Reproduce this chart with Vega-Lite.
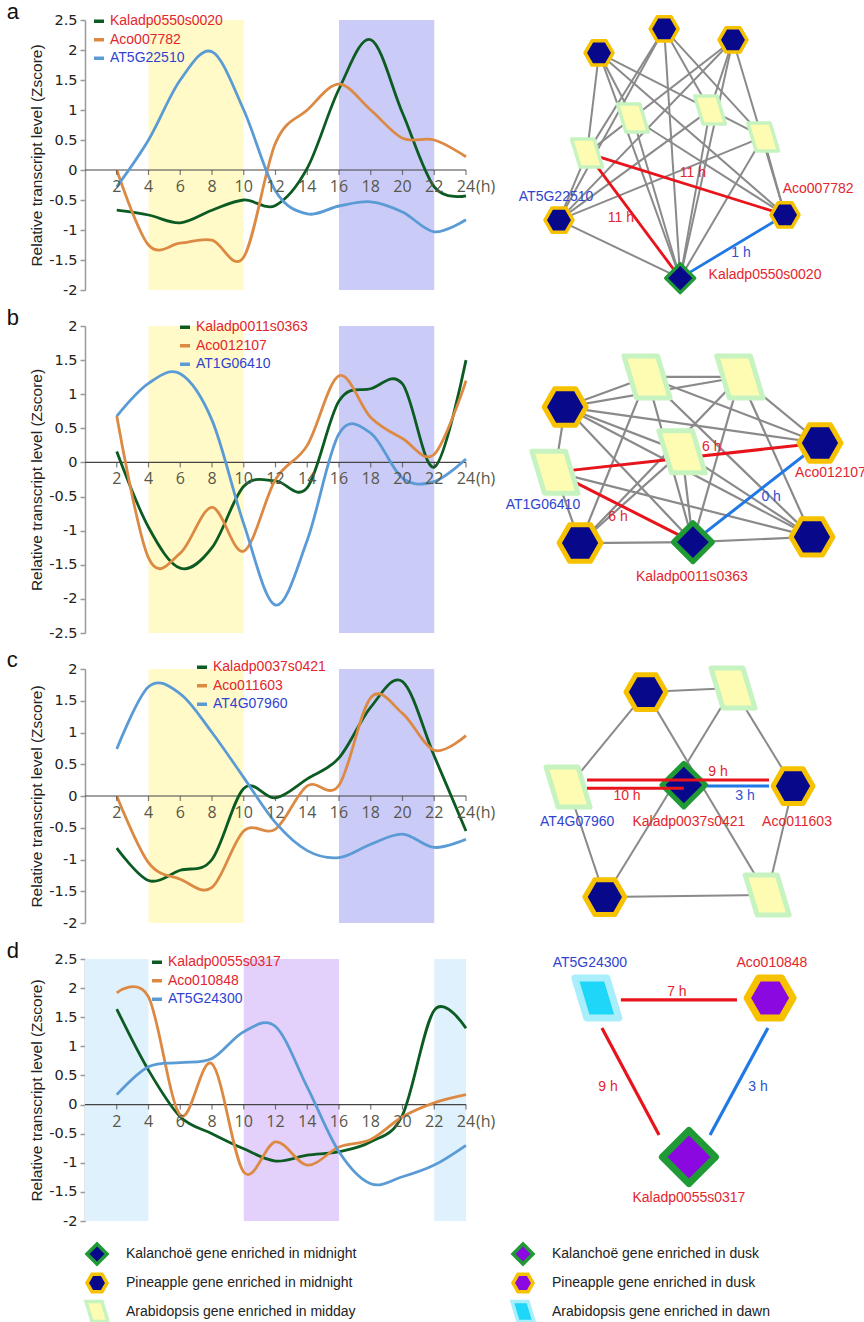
{
"$schema":"https://vega.github.io/schema/vega-lite/v6.json",
"background":"white",
"padding":{"left":6,"top":1,"right":0,"bottom":0},
"columns":2,
"bounds":"flush",
"align":"each",
"spacing":{"row":36,"column":34},
"config":{"view":{"stroke":null},"font":"Liberation Sans","axis":{"labelOverlap":false,"labelSeparation":0},
 "axisY":{"grid":false,"domainColor":"#9a9a9a","domainWidth":1.5,"tickColor":"#9a9a9a","tickWidth":1.5,"tickSize":5,"labelFont":"DejaVu Sans","labelFontSize":14.5,"labelColor":"#222","labelPadding":3,"titleFont":"Liberation Sans","titleFontSize":15.5,"titleFontWeight":"normal","titleColor":"#222","titlePadding":4,"labelOverlap":false}},
"resolve":{"scale":{"color":"independent","fill":"independent","stroke":"independent","shape":"independent","size":"independent","strokeWidth":"independent"}},
"datasets":{
"hours":[{"t":2},{"t":4},{"t":6},{"t":8},{"t":10},{"t":12},{"t":14},{"t":16},{"t":18},{"t":20},{"t":22},{"t":24}],
"sa":[
{"gene":"Kaladp0550s0020","t":2,"z":-0.67},{"gene":"Kaladp0550s0020","t":4,"z":-0.75},{"gene":"Kaladp0550s0020","t":6,"z":-0.88},{"gene":"Kaladp0550s0020","t":8,"z":-0.67},{"gene":"Kaladp0550s0020","t":10,"z":-0.5},{"gene":"Kaladp0550s0020","t":12,"z":-0.59},{"gene":"Kaladp0550s0020","t":14,"z":0.03},{"gene":"Kaladp0550s0020","t":16,"z":1.35},{"gene":"Kaladp0550s0020","t":18,"z":2.17},{"gene":"Kaladp0550s0020","t":20,"z":0.95},{"gene":"Kaladp0550s0020","t":22,"z":-0.28},{"gene":"Kaladp0550s0020","t":24,"z":-0.43},
{"gene":"Aco007782","t":2,"z":0.0},{"gene":"Aco007782","t":4,"z":-1.25},{"gene":"Aco007782","t":6,"z":-1.22},{"gene":"Aco007782","t":8,"z":-1.17},{"gene":"Aco007782","t":10,"z":-1.45},{"gene":"Aco007782","t":12,"z":0.45},{"gene":"Aco007782","t":14,"z":1.0},{"gene":"Aco007782","t":16,"z":1.43},{"gene":"Aco007782","t":18,"z":1.0},{"gene":"Aco007782","t":20,"z":0.53},{"gene":"Aco007782","t":22,"z":0.5},{"gene":"Aco007782","t":24,"z":0.22},
{"gene":"AT5G22510","t":2,"z":-0.28},{"gene":"AT5G22510","t":4,"z":0.5},{"gene":"AT5G22510","t":6,"z":1.5},{"gene":"AT5G22510","t":8,"z":1.97},{"gene":"AT5G22510","t":10,"z":1.0},{"gene":"AT5G22510","t":12,"z":-0.35},{"gene":"AT5G22510","t":14,"z":-0.73},{"gene":"AT5G22510","t":16,"z":-0.6},{"gene":"AT5G22510","t":18,"z":-0.53},{"gene":"AT5G22510","t":20,"z":-0.7},{"gene":"AT5G22510","t":22,"z":-1.03},{"gene":"AT5G22510","t":24,"z":-0.83}],
"sb":[
{"gene":"Kaladp0011s0363","t":2,"z":0.16},{"gene":"Kaladp0011s0363","t":4,"z":-0.95},{"gene":"Kaladp0011s0363","t":6,"z":-1.55},{"gene":"Kaladp0011s0363","t":8,"z":-1.25},{"gene":"Kaladp0011s0363","t":10,"z":-0.35},{"gene":"Kaladp0011s0363","t":12,"z":-0.27},{"gene":"Kaladp0011s0363","t":14,"z":-0.37},{"gene":"Kaladp0011s0363","t":16,"z":0.9},{"gene":"Kaladp0011s0363","t":18,"z":1.08},{"gene":"Kaladp0011s0363","t":20,"z":1.15},{"gene":"Kaladp0011s0363","t":22,"z":-0.07},{"gene":"Kaladp0011s0363","t":24,"z":1.5},
{"gene":"Aco012107","t":2,"z":0.68},{"gene":"Aco012107","t":4,"z":-1.4},{"gene":"Aco012107","t":6,"z":-1.33},{"gene":"Aco012107","t":8,"z":-0.66},{"gene":"Aco012107","t":10,"z":-1.3},{"gene":"Aco012107","t":12,"z":-0.25},{"gene":"Aco012107","t":14,"z":0.25},{"gene":"Aco012107","t":16,"z":1.27},{"gene":"Aco012107","t":18,"z":0.66},{"gene":"Aco012107","t":20,"z":0.35},{"gene":"Aco012107","t":22,"z":0.12},{"gene":"Aco012107","t":24,"z":1.2},
{"gene":"AT1G06410","t":2,"z":0.68},{"gene":"AT1G06410","t":4,"z":1.16},{"gene":"AT1G06410","t":6,"z":1.3},{"gene":"AT1G06410","t":8,"z":0.62},{"gene":"AT1G06410","t":10,"z":-0.9},{"gene":"AT1G06410","t":12,"z":-2.09},{"gene":"AT1G06410","t":14,"z":-1.14},{"gene":"AT1G06410","t":16,"z":0.42},{"gene":"AT1G06410","t":18,"z":0.43},{"gene":"AT1G06410","t":20,"z":-0.23},{"gene":"AT1G06410","t":22,"z":-0.28},{"gene":"AT1G06410","t":24,"z":0.05}],
"sc":[
{"gene":"Kaladp0037s0421","t":2,"z":-0.82},{"gene":"Kaladp0037s0421","t":4,"z":-1.33},{"gene":"Kaladp0037s0421","t":6,"z":-1.17},{"gene":"Kaladp0037s0421","t":8,"z":-1.0},{"gene":"Kaladp0037s0421","t":10,"z":0.12},{"gene":"Kaladp0037s0421","t":12,"z":-0.03},{"gene":"Kaladp0037s0421","t":14,"z":0.27},{"gene":"Kaladp0037s0421","t":16,"z":0.6},{"gene":"Kaladp0037s0421","t":18,"z":1.4},{"gene":"Kaladp0037s0421","t":20,"z":1.8},{"gene":"Kaladp0037s0421","t":22,"z":0.63},{"gene":"Kaladp0037s0421","t":24,"z":-0.55},
{"gene":"Aco011603","t":2,"z":0.0},{"gene":"Aco011603","t":4,"z":-1.05},{"gene":"Aco011603","t":6,"z":-1.31},{"gene":"Aco011603","t":8,"z":-1.44},{"gene":"Aco011603","t":10,"z":-0.55},{"gene":"Aco011603","t":12,"z":-0.52},{"gene":"Aco011603","t":14,"z":0.16},{"gene":"Aco011603","t":16,"z":0.17},{"gene":"Aco011603","t":18,"z":1.55},{"gene":"Aco011603","t":20,"z":1.3},{"gene":"Aco011603","t":22,"z":0.72},{"gene":"Aco011603","t":24,"z":0.95},
{"gene":"AT4G07960","t":2,"z":0.74},{"gene":"AT4G07960","t":4,"z":1.72},{"gene":"AT4G07960","t":6,"z":1.61},{"gene":"AT4G07960","t":8,"z":1.0},{"gene":"AT4G07960","t":10,"z":0.29},{"gene":"AT4G07960","t":12,"z":-0.42},{"gene":"AT4G07960","t":14,"z":-0.86},{"gene":"AT4G07960","t":16,"z":-0.97},{"gene":"AT4G07960","t":18,"z":-0.76},{"gene":"AT4G07960","t":20,"z":-0.6},{"gene":"AT4G07960","t":22,"z":-0.81},{"gene":"AT4G07960","t":24,"z":-0.68}],
"sd":[
{"gene":"Kaladp0055s0317","t":2,"z":1.64},{"gene":"Kaladp0055s0317","t":4,"z":0.59},{"gene":"Kaladp0055s0317","t":6,"z":-0.21},{"gene":"Kaladp0055s0317","t":8,"z":-0.5},{"gene":"Kaladp0055s0317","t":10,"z":-0.76},{"gene":"Kaladp0055s0317","t":12,"z":-0.97},{"gene":"Kaladp0055s0317","t":14,"z":-0.87},{"gene":"Kaladp0055s0317","t":16,"z":-0.81},{"gene":"Kaladp0055s0317","t":18,"z":-0.64},{"gene":"Kaladp0055s0317","t":20,"z":-0.18},{"gene":"Kaladp0055s0317","t":22,"z":1.62},{"gene":"Kaladp0055s0317","t":24,"z":1.31},
{"gene":"Aco010848","t":2,"z":1.92},{"gene":"Aco010848","t":4,"z":1.85},{"gene":"Aco010848","t":6,"z":-0.18},{"gene":"Aco010848","t":8,"z":0.7},{"gene":"Aco010848","t":10,"z":-1.16},{"gene":"Aco010848","t":12,"z":-0.64},{"gene":"Aco010848","t":14,"z":-1.04},{"gene":"Aco010848","t":16,"z":-0.73},{"gene":"Aco010848","t":18,"z":-0.6},{"gene":"Aco010848","t":20,"z":-0.21},{"gene":"Aco010848","t":22,"z":0.03},{"gene":"Aco010848","t":24,"z":0.17},
{"gene":"AT5G24300","t":2,"z":0.17},{"gene":"AT5G24300","t":4,"z":0.65},{"gene":"AT5G24300","t":6,"z":0.72},{"gene":"AT5G24300","t":8,"z":0.79},{"gene":"AT5G24300","t":10,"z":1.25},{"gene":"AT5G24300","t":12,"z":1.34},{"gene":"AT5G24300","t":14,"z":0.3},{"gene":"AT5G24300","t":16,"z":-0.81},{"gene":"AT5G24300","t":18,"z":-1.36},{"gene":"AT5G24300","t":20,"z":-1.24},{"gene":"AT5G24300","t":22,"z":-1.04},{"gene":"AT5G24300","t":24,"z":-0.7}],
"nodesA":[
{"id":"H1","type":"Pineapple gene enriched in midnight","u":27.2,"v":87.8},
{"id":"H2","type":"Pineapple gene enriched in midnight","u":45.1,"v":96.7},
{"id":"H3","type":"Pineapple gene enriched in midnight","u":64.0,"v":92.6},
{"id":"H4","type":"Pineapple gene enriched in midnight","u":16.2,"v":25.9},
{"id":"Aco007782","type":"Pineapple gene enriched in midnight","u":78.3,"v":27.8},
{"id":"Kaladp0550s0020","type":"Kalanchoë gene enriched in midnight","u":49.5,"v":4.4},
{"id":"AT5G22510","type":"Arabidopsis gene enriched in midday","u":23.9,"v":50.7},
{"id":"P2","type":"Arabidopsis gene enriched in midday","u":36.5,"v":63.7},
{"id":"P3","type":"Arabidopsis gene enriched in midday","u":57.7,"v":66.7},
{"id":"P4","type":"Arabidopsis gene enriched in midday","u":72.3,"v":56.7}],
"edgesA":[
{"src":"H1","dst":"AT5G22510","kind":"net"},{"src":"H1","dst":"P2","kind":"net"},{"src":"H1","dst":"P4","kind":"net"},{"src":"H1","dst":"Kaladp0550s0020","kind":"net"},{"src":"H1","dst":"Aco007782","kind":"net"},
{"src":"H2","dst":"AT5G22510","kind":"net"},{"src":"H2","dst":"P3","kind":"net"},{"src":"H2","dst":"H4","kind":"net"},{"src":"H2","dst":"Kaladp0550s0020","kind":"net"},{"src":"H2","dst":"P4","kind":"net"},
{"src":"H3","dst":"AT5G22510","kind":"net"},{"src":"H3","dst":"P3","kind":"net"},{"src":"H3","dst":"Kaladp0550s0020","kind":"net"},{"src":"H3","dst":"Aco007782","kind":"net"},{"src":"H3","dst":"H4","kind":"net"},
{"src":"H4","dst":"AT5G22510","kind":"net"},{"src":"H4","dst":"P3","kind":"net"},{"src":"H4","dst":"P4","kind":"net"},{"src":"H4","dst":"Kaladp0550s0020","kind":"net"},
{"src":"P2","dst":"Kaladp0550s0020","kind":"net"},{"src":"P2","dst":"Aco007782","kind":"net"},{"src":"P3","dst":"Kaladp0550s0020","kind":"net"},{"src":"P4","dst":"Kaladp0550s0020","kind":"net"},{"src":"P4","dst":"Aco007782","kind":"net"},
{"src":"AT5G22510","dst":"Aco007782","kind":"long"},{"src":"AT5G22510","dst":"Kaladp0550s0020","kind":"long"},{"src":"Aco007782","dst":"Kaladp0550s0020","kind":"short"}],
"hlabA":[{"u":53.0,"v":43.3,"text":"11 h","kind":"long"},{"u":33.2,"v":26.7,"text":"11 h","kind":"long"},{"u":66.2,"v":13.7,"text":"1 h","kind":"short"}],
"labA":[{"u":15.4,"v":34.4,"name":"AT5G22510","species":"Arabidopsis"},{"u":87.4,"v":37.4,"name":"Aco007782","species":"pineapple"},{"u":72.8,"v":5.6,"name":"Kaladp0550s0020","species":"Kalanchoë"}],
"nodesB":[
{"id":"HL","type":"Pineapple gene enriched in midnight","u":17.9,"v":73.6},
{"id":"PT1","type":"Arabidopsis gene enriched in midday","u":40.4,"v":83.4},
{"id":"PT2","type":"Arabidopsis gene enriched in midday","u":65.9,"v":83.4},
{"id":"Aco012107","type":"Pineapple gene enriched in midnight","u":87.9,"v":61.9},
{"id":"PM","type":"Arabidopsis gene enriched in midday","u":50.0,"v":59.0},
{"id":"AT1G06410","type":"Arabidopsis gene enriched in midday","u":15.1,"v":52.4},
{"id":"BL","type":"Pineapple gene enriched in midnight","u":22.0,"v":29.3},
{"id":"Kaladp0011s0363","type":"Kalanchoë gene enriched in midnight","u":53.0,"v":29.6},
{"id":"BR","type":"Pineapple gene enriched in midnight","u":85.7,"v":31.3}],
"edgesB":[
{"src":"HL","dst":"PT1","kind":"net"},{"src":"HL","dst":"PT2","kind":"net"},{"src":"HL","dst":"PM","kind":"net"},{"src":"HL","dst":"Aco012107","kind":"net"},{"src":"HL","dst":"Kaladp0011s0363","kind":"net"},{"src":"HL","dst":"BR","kind":"net"},{"src":"HL","dst":"AT1G06410","kind":"net"},
{"src":"PT1","dst":"PT2","kind":"net"},{"src":"PT1","dst":"BL","kind":"net"},{"src":"PT1","dst":"Kaladp0011s0363","kind":"net"},{"src":"PT1","dst":"BR","kind":"net"},{"src":"PT1","dst":"Aco012107","kind":"net"},
{"src":"PT2","dst":"BL","kind":"net"},{"src":"PT2","dst":"Kaladp0011s0363","kind":"net"},{"src":"PT2","dst":"BR","kind":"net"},{"src":"PT2","dst":"Aco012107","kind":"net"},
{"src":"PM","dst":"BL","kind":"net"},{"src":"PM","dst":"Kaladp0011s0363","kind":"net"},{"src":"PM","dst":"BR","kind":"net"},
{"src":"AT1G06410","dst":"BL","kind":"net"},{"src":"AT1G06410","dst":"BR","kind":"net"},{"src":"BL","dst":"Kaladp0011s0363","kind":"net"},{"src":"Kaladp0011s0363","dst":"BR","kind":"net"},
{"src":"AT1G06410","dst":"Aco012107","kind":"long"},{"src":"AT1G06410","dst":"Kaladp0011s0363","kind":"long"},{"src":"Aco012107","dst":"Kaladp0011s0363","kind":"short"}],
"hlabB":[{"u":58.2,"v":60.6,"text":"6 h","kind":"long"},{"u":32.4,"v":37.8,"text":"6 h","kind":"long"},{"u":74.5,"v":44.3,"text":"0 h","kind":"short"}],
"labB":[{"u":11.8,"v":41.7,"name":"AT1G06410","species":"Arabidopsis"},{"u":90.8,"v":52.1,"name":"Aco012107","species":"pineapple"},{"u":52.7,"v":18.2,"name":"Kaladp0011s0363","species":"Kalanchoë"}],
"nodesC":[
{"id":"T","type":"Pineapple gene enriched in midnight","u":40.1,"v":90.9},
{"id":"PTR","type":"Arabidopsis gene enriched in midday","u":64.0,"v":92.5},
{"id":"AT4G07960","type":"Arabidopsis gene enriched in midday","u":18.7,"v":53.5},
{"id":"Kaladp0037s0421","type":"Kalanchoë gene enriched in midnight","u":50.5,"v":54.3},
{"id":"Aco011603","type":"Pineapple gene enriched in midnight","u":80.5,"v":53.9},
{"id":"B","type":"Pineapple gene enriched in midnight","u":28.8,"v":10.2},
{"id":"PBR","type":"Arabidopsis gene enriched in midday","u":73.4,"v":11.0}],
"edgesC":[
{"src":"T","dst":"PTR","kind":"net"},{"src":"T","dst":"AT4G07960","kind":"net"},{"src":"T","dst":"PBR","kind":"net"},{"src":"PTR","dst":"B","kind":"net"},{"src":"PTR","dst":"Aco011603","kind":"net"},{"src":"AT4G07960","dst":"B","kind":"net"},{"src":"B","dst":"PBR","kind":"net"},{"src":"Aco011603","dst":"PBR","kind":"net"}],
"linksC":[{"u1":23.9,"v1":56.3,"u2":73.9,"v2":56.3,"kind":"long"},{"u1":23.9,"v1":53.1,"u2":50.5,"v2":53.1,"kind":"long"},{"u1":56.9,"v1":53.9,"u2":73.9,"v2":53.9,"kind":"short"}],
"hlabC":[{"u":59.9,"v":59.4,"text":"9 h","kind":"long"},{"u":34.9,"v":50.0,"text":"10 h","kind":"long"},{"u":67.3,"v":50.0,"text":"3 h","kind":"short"}],
"labC":[{"u":21.2,"v":39.8,"name":"AT4G07960","species":"Arabidopsis"},{"u":51.9,"v":39.8,"name":"Kaladp0037s0421","species":"Kalanchoë"},{"u":81.6,"v":39.8,"name":"Aco011603","species":"pineapple"}],
"nodesD":[
{"id":"AT5G24300","type":"Arabidopsis gene enriched in dawn","u":26.6,"v":85.1},
{"id":"Aco010848","type":"Pineapple gene enriched in dusk","u":74.2,"v":85.1},
{"id":"Kaladp0055s0317","type":"Kalanchoë gene enriched in dusk","u":51.9,"v":24.4}],
"linksD":[{"u1":33.2,"v1":84.4,"u2":65.1,"v2":84.4,"kind":"long"},{"u1":28.0,"v1":73.7,"u2":43.7,"v2":32.8,"kind":"long"},{"u1":73.6,"v1":73.7,"u2":57.7,"v2":32.8,"kind":"short"}],
"hlabD":[{"u":48.6,"v":87.4,"text":"7 h","kind":"long"},{"u":29.7,"v":51.1,"text":"9 h","kind":"long"},{"u":70.9,"v":51.1,"text":"3 h","kind":"short"}],
"labD":[{"u":24.7,"v":98.5,"name":"AT5G24300","species":"Arabidopsis"},{"u":74.7,"v":98.5,"name":"Aco010848","species":"pineapple"},{"u":51.9,"v":8.8,"name":"Kaladp0055s0317","species":"Kalanchoë"}]
},
"concat":[
{"width":381,"height":270,
 "title":{"text":"a","anchor":"start","frame":"bounds","font":"Liberation Sans","fontSize":22,"fontWeight":"normal","color":"#111","dx":-23,"offset":-29,"baseline":"alphabetic"},
 "layer":[
  {"data":{"values":[{"start":4,"end":10,"phase":"midday"},{"start":16,"end":22,"phase":"midnight"}]},"mark":{"type":"rect"},
   "encoding":{"x":{"field":"start","type":"quantitative","scale":{"domain":[0,24],"nice":false,"zero":false},"axis":null},"x2":{"field":"end"},
   "fill":{"field":"phase","type":"nominal","scale":{"domain":["midday","midnight","dawn","dusk"],"range":["#fffac8","#cbcbf8","#dff1fc","#e3d1fb"]},"legend":null}}},
  {"data":{"values":[{"level":0}]},"mark":{"type":"rule","color":"#444","strokeWidth":1.2},"encoding":{"y":{"datum":0,"axis":{"values":[-2,-1.5,-1,-0.5,0,0.5,1,1.5,2,2.5],"labelExpr":"'' + datum.value","title":"Relative transcript level (Zscore)","labelOverlap":false}}}},
  {"data":{"name":"sa"},"mark":{"type":"line","interpolate":"cardinal","strokeWidth":2.8},
   "encoding":{"x":{"field":"t","type":"quantitative","axis":null},
   "y":{"field":"z","type":"quantitative","scale":{"domain":[-2,2.5],"nice":false,"zero":false},"axis":{"values":[-2,-1.5,-1,-0.5,0,0.5,1,1.5,2,2.5],"labelExpr":"'' + datum.value","title":"Relative transcript level (Zscore)","labelOverlap":false}},
   "color":{"field":"gene","type":"nominal","scale":{"domain":["Kaladp0550s0020","Aco007782","AT5G22510"],"range":["#0c5b22","#dc8a43","#5b9bd5"]},"legend":{"orient":"none","legendX":7,"legendY":-5.75,"title":null,"symbolType":"stroke","symbolStrokeWidth":3.5,"symbolSize":100,"labelFont":"Liberation Sans","labelFontSize":14,"labelOffset":4,"rowPadding":4.5,"padding":0,"encode":{"labels":{"update":{"fill":{"signal":"indexof(datum.label, 'AT') == 0 ? '#3043cf' : '#e3262e'"}}}}}}}},
  {"data":{"name":"hours"},"mark":{"type":"tick","orient":"vertical","size":5,"thickness":1.2,"color":"#444","yOffset":2.5},"encoding":{"x":{"field":"t","type":"quantitative","axis":null},"y":{"datum":0,"axis":{"values":[-2,-1.5,-1,-0.5,0,0.5,1,1.5,2,2.5],"labelExpr":"'' + datum.value","title":"Relative transcript level (Zscore)","labelOverlap":false}}}},
  {"data":{"name":"hours"},"mark":{"type":"text","dy":17,"font":"Open Sans","fontSize":16,"color":"#57574a"},"encoding":{"x":{"field":"t","type":"quantitative","axis":null},"y":{"datum":0,"axis":{"values":[-2,-1.5,-1,-0.5,0,0.5,1,1.5,2,2.5],"labelExpr":"'' + datum.value","title":"Relative transcript level (Zscore)","labelOverlap":false}},"text":{"field":"t","type":"quantitative"}}},
  {"data":{"values":[{"t":24,"unit":"(h)"}]},"mark":{"type":"text","dy":17,"dx":10,"align":"left","font":"Open Sans","fontSize":16,"color":"#57574a"},"encoding":{"x":{"field":"t","type":"quantitative","axis":null},"y":{"datum":0,"axis":{"values":[-2,-1.5,-1,-0.5,0,0.5,1,1.5,2,2.5],"labelExpr":"'' + datum.value","title":"Relative transcript level (Zscore)","labelOverlap":false}},"text":{"field":"unit"}}}
 ]},
{"width":364,"height":270,
 "layer":[
  {"data":{"name":"edgesA"},"transform":[{"lookup":"src","from":{"data":{"name":"nodesA"},"key":"id","fields":["u","v"]},"as":["u1","v1"]},{"lookup":"dst","from":{"data":{"name":"nodesA"},"key":"id","fields":["u","v"]},"as":["u2","v2"]}],
   "mark":{"type":"rule"},
   "encoding":{"x":{"field":"u1","type":"quantitative","scale":{"domain":[0,100],"nice":false,"zero":false},"axis":null},"y":{"field":"v1","type":"quantitative","scale":{"domain":[0,100],"nice":false,"zero":false},"axis":null},"x2":{"field":"u2"},"y2":{"field":"v2"},
   "color":{"field":"kind","type":"nominal","scale":{"domain":["net","long","short"],"range":["#8a8a8a","#e8141c","#1f78e4"]},"legend":null},
   "strokeWidth":{"field":"kind","type":"nominal","scale":{"type":"ordinal","domain":["net","long","short"],"range":[2,2.8,2.8]},"legend":null}}},
  {"data":{"name":"nodesA"},"mark":{"type":"point","filled":true,"opacity":1,"strokeWidth":3.5,"strokeJoin":"round"},
   "encoding":{"x":{"field":"u","type":"quantitative","axis":null},"y":{"field":"v","type":"quantitative","axis":null},
   "shape":{"field":"type","type":"nominal","scale":{"domain":["Kalanchoë gene enriched in midnight","Kalanchoë gene enriched in dusk","Pineapple gene enriched in midnight","Pineapple gene enriched in dusk","Arabidopsis gene enriched in midday","Arabidopsis gene enriched in dawn"],"range":["diamond","diamond","M-1,0L-0.5,-0.866L0.5,-0.866L1,0L0.5,0.866L-0.5,0.866Z","M-1,0L-0.5,-0.866L0.5,-0.866L1,0L0.5,0.866L-0.5,0.866Z","M-1.1,-1L0.5,-1L1.1,1L-0.5,1Z","M-1.1,-1L0.5,-1L1.1,1L-0.5,1Z"]},"legend":null},
   "fill":{"field":"type","type":"nominal","scale":{"domain":["Kalanchoë gene enriched in midnight","Kalanchoë gene enriched in dusk","Pineapple gene enriched in midnight","Pineapple gene enriched in dusk","Arabidopsis gene enriched in midday","Arabidopsis gene enriched in dawn"],"range":["#08088a","#8c08e0","#08088a","#8c08e0","#fdfcb2","#1ed6f7"]},"legend":null},
   "stroke":{"field":"type","type":"nominal","scale":{"domain":["Kalanchoë gene enriched in midnight","Kalanchoë gene enriched in dusk","Pineapple gene enriched in midnight","Pineapple gene enriched in dusk","Arabidopsis gene enriched in midday","Arabidopsis gene enriched in dawn"],"range":["#1f9a35","#1f9a35","#f6c200","#f6c200","#c6f3bf","#a9eefb"]},"legend":null},
   "size":{"field":"type","type":"nominal","scale":{"type":"ordinal","domain":["Kalanchoë gene enriched in midnight","Kalanchoë gene enriched in dusk","Pineapple gene enriched in midnight","Pineapple gene enriched in dusk","Arabidopsis gene enriched in midday","Arabidopsis gene enriched in dawn"],"range":[841,841,784,784,784,784]},"legend":null}}},
  {"data":{"name":"hlabA"},"mark":{"type":"text","font":"Liberation Sans","fontSize":14},
   "encoding":{"x":{"field":"u","type":"quantitative","axis":null},"y":{"field":"v","type":"quantitative","axis":null},"text":{"field":"text"},"color":{"field":"kind","type":"nominal","scale":{"domain":["long","short"],"range":["#e3262e","#2f50d0"]},"legend":null}}},
  {"data":{"name":"labA"},"mark":{"type":"text","font":"Liberation Sans","fontSize":14},
   "encoding":{"x":{"field":"u","type":"quantitative","axis":null},"y":{"field":"v","type":"quantitative","axis":null},"text":{"field":"name"},"color":{"field":"species","type":"nominal","scale":{"domain":["Kalanchoë","pineapple","Arabidopsis"],"range":["#e3262e","#e3262e","#3043cf"]},"legend":null}}}
 ],
 "resolve":{"scale":{"color":"independent"}}},
{"width":381,"height":307,
 "title":{"text":"b","anchor":"start","frame":"bounds","font":"Liberation Sans","fontSize":22,"fontWeight":"normal","color":"#111","dx":-23,"offset":-29,"baseline":"alphabetic"},
 "layer":[
  {"data":{"values":[{"start":4,"end":10,"phase":"midday"},{"start":16,"end":22,"phase":"midnight"}]},"mark":{"type":"rect"},
   "encoding":{"x":{"field":"start","type":"quantitative","scale":{"domain":[0,24],"nice":false,"zero":false},"axis":null},"x2":{"field":"end"},
   "fill":{"field":"phase","type":"nominal","scale":{"domain":["midday","midnight","dawn","dusk"],"range":["#fffac8","#cbcbf8","#dff1fc","#e3d1fb"]},"legend":null}}},
  {"data":{"values":[{"level":0}]},"mark":{"type":"rule","color":"#444","strokeWidth":1.2},"encoding":{"y":{"datum":0,"axis":{"values":[-2.5,-2,-1.5,-1,-0.5,0,0.5,1,1.5,2],"labelExpr":"'' + datum.value","title":"Relative transcript level (Zscore)","labelOverlap":false}}}},
  {"data":{"name":"sb"},"mark":{"type":"line","interpolate":"cardinal","strokeWidth":2.8},
   "encoding":{"x":{"field":"t","type":"quantitative","axis":null},
   "y":{"field":"z","type":"quantitative","scale":{"domain":[-2.5,2],"nice":false,"zero":false},"axis":{"values":[-2.5,-2,-1.5,-1,-0.5,0,0.5,1,1.5,2],"labelExpr":"'' + datum.value","title":"Relative transcript level (Zscore)","labelOverlap":false}},
   "color":{"field":"gene","type":"nominal","scale":{"domain":["Kaladp0011s0363","Aco012107","AT1G06410"],"range":["#0c5b22","#dc8a43","#5b9bd5"]},"legend":{"orient":"none","legendX":93,"legendY":-5.75,"title":null,"symbolType":"stroke","symbolStrokeWidth":3.5,"symbolSize":100,"labelFont":"Liberation Sans","labelFontSize":14,"labelOffset":4,"rowPadding":4.5,"padding":0,"encode":{"labels":{"update":{"fill":{"signal":"indexof(datum.label, 'AT') == 0 ? '#3043cf' : '#e3262e'"}}}}}}}},
  {"data":{"name":"hours"},"mark":{"type":"tick","orient":"vertical","size":5,"thickness":1.2,"color":"#444","yOffset":2.5},"encoding":{"x":{"field":"t","type":"quantitative","axis":null},"y":{"datum":0,"axis":{"values":[-2.5,-2,-1.5,-1,-0.5,0,0.5,1,1.5,2],"labelExpr":"'' + datum.value","title":"Relative transcript level (Zscore)","labelOverlap":false}}}},
  {"data":{"name":"hours"},"mark":{"type":"text","dy":17,"font":"Open Sans","fontSize":16,"color":"#57574a"},"encoding":{"x":{"field":"t","type":"quantitative","axis":null},"y":{"datum":0,"axis":{"values":[-2.5,-2,-1.5,-1,-0.5,0,0.5,1,1.5,2],"labelExpr":"'' + datum.value","title":"Relative transcript level (Zscore)","labelOverlap":false}},"text":{"field":"t","type":"quantitative"}}},
  {"data":{"values":[{"t":24,"unit":"(h)"}]},"mark":{"type":"text","dy":17,"dx":10,"align":"left","font":"Open Sans","fontSize":16,"color":"#57574a"},"encoding":{"x":{"field":"t","type":"quantitative","axis":null},"y":{"datum":0,"axis":{"values":[-2.5,-2,-1.5,-1,-0.5,0,0.5,1,1.5,2],"labelExpr":"'' + datum.value","title":"Relative transcript level (Zscore)","labelOverlap":false}},"text":{"field":"unit"}}}
 ]},
{"width":364,"height":307,
 "layer":[
  {"data":{"name":"edgesB"},"transform":[{"lookup":"src","from":{"data":{"name":"nodesB"},"key":"id","fields":["u","v"]},"as":["u1","v1"]},{"lookup":"dst","from":{"data":{"name":"nodesB"},"key":"id","fields":["u","v"]},"as":["u2","v2"]}],
   "mark":{"type":"rule"},
   "encoding":{"x":{"field":"u1","type":"quantitative","scale":{"domain":[0,100],"nice":false,"zero":false},"axis":null},"y":{"field":"v1","type":"quantitative","scale":{"domain":[0,100],"nice":false,"zero":false},"axis":null},"x2":{"field":"u2"},"y2":{"field":"v2"},
   "color":{"field":"kind","type":"nominal","scale":{"domain":["net","long","short"],"range":["#8a8a8a","#e8141c","#1f78e4"]},"legend":null},
   "strokeWidth":{"field":"kind","type":"nominal","scale":{"type":"ordinal","domain":["net","long","short"],"range":[2.2,3,3]},"legend":null}}},
  {"data":{"name":"nodesB"},"mark":{"type":"point","filled":true,"opacity":1,"strokeWidth":5,"strokeJoin":"round"},
   "encoding":{"x":{"field":"u","type":"quantitative","axis":null},"y":{"field":"v","type":"quantitative","axis":null},
   "shape":{"field":"type","type":"nominal","scale":{"domain":["Kalanchoë gene enriched in midnight","Kalanchoë gene enriched in dusk","Pineapple gene enriched in midnight","Pineapple gene enriched in dusk","Arabidopsis gene enriched in midday","Arabidopsis gene enriched in dawn"],"range":["diamond","diamond","M-1,0L-0.5,-0.866L0.5,-0.866L1,0L0.5,0.866L-0.5,0.866Z","M-1,0L-0.5,-0.866L0.5,-0.866L1,0L0.5,0.866L-0.5,0.866Z","M-1.1,-1L0.5,-1L1.1,1L-0.5,1Z","M-1.1,-1L0.5,-1L1.1,1L-0.5,1Z"]},"legend":null},
   "fill":{"field":"type","type":"nominal","scale":{"domain":["Kalanchoë gene enriched in midnight","Kalanchoë gene enriched in dusk","Pineapple gene enriched in midnight","Pineapple gene enriched in dusk","Arabidopsis gene enriched in midday","Arabidopsis gene enriched in dawn"],"range":["#08088a","#8c08e0","#08088a","#8c08e0","#fdfcb2","#1ed6f7"]},"legend":null},
   "stroke":{"field":"type","type":"nominal","scale":{"domain":["Kalanchoë gene enriched in midnight","Kalanchoë gene enriched in dusk","Pineapple gene enriched in midnight","Pineapple gene enriched in dusk","Arabidopsis gene enriched in midday","Arabidopsis gene enriched in dawn"],"range":["#1f9a35","#1f9a35","#f6c200","#f6c200","#c6f3bf","#a9eefb"]},"legend":null},
   "size":{"field":"type","type":"nominal","scale":{"type":"ordinal","domain":["Kalanchoë gene enriched in midnight","Kalanchoë gene enriched in dusk","Pineapple gene enriched in midnight","Pineapple gene enriched in dusk","Arabidopsis gene enriched in midday","Arabidopsis gene enriched in dawn"],"range":[1521,1521,1764,1764,1764,1764]},"legend":null}}},
  {"data":{"name":"hlabB"},"mark":{"type":"text","font":"Liberation Sans","fontSize":14},
   "encoding":{"x":{"field":"u","type":"quantitative","axis":null},"y":{"field":"v","type":"quantitative","axis":null},"text":{"field":"text"},"color":{"field":"kind","type":"nominal","scale":{"domain":["long","short"],"range":["#e3262e","#2f50d0"]},"legend":null}}},
  {"data":{"name":"labB"},"mark":{"type":"text","font":"Liberation Sans","fontSize":14},
   "encoding":{"x":{"field":"u","type":"quantitative","axis":null},"y":{"field":"v","type":"quantitative","axis":null},"text":{"field":"name"},"color":{"field":"species","type":"nominal","scale":{"domain":["Kalanchoë","pineapple","Arabidopsis"],"range":["#e3262e","#e3262e","#3043cf"]},"legend":null}}}
 ],
 "resolve":{"scale":{"color":"independent"}}},
{"width":381,"height":254,
 "title":{"text":"c","anchor":"start","frame":"bounds","font":"Liberation Sans","fontSize":22,"fontWeight":"normal","color":"#111","dx":-23,"offset":-29,"baseline":"alphabetic"},
 "layer":[
  {"data":{"values":[{"start":4,"end":10,"phase":"midday"},{"start":16,"end":22,"phase":"midnight"}]},"mark":{"type":"rect"},
   "encoding":{"x":{"field":"start","type":"quantitative","scale":{"domain":[0,24],"nice":false,"zero":false},"axis":null},"x2":{"field":"end"},
   "fill":{"field":"phase","type":"nominal","scale":{"domain":["midday","midnight","dawn","dusk"],"range":["#fffac8","#cbcbf8","#dff1fc","#e3d1fb"]},"legend":null}}},
  {"data":{"values":[{"level":0}]},"mark":{"type":"rule","color":"#444","strokeWidth":1.2},"encoding":{"y":{"datum":0,"axis":{"values":[-2,-1.5,-1,-0.5,0,0.5,1,1.5,2],"labelExpr":"'' + datum.value","title":"Relative transcript level (Zscore)","labelOverlap":false}}}},
  {"data":{"name":"sc"},"mark":{"type":"line","interpolate":"cardinal","strokeWidth":2.8},
   "encoding":{"x":{"field":"t","type":"quantitative","axis":null},
   "y":{"field":"z","type":"quantitative","scale":{"domain":[-2,2],"nice":false,"zero":false},"axis":{"values":[-2,-1.5,-1,-0.5,0,0.5,1,1.5,2],"labelExpr":"'' + datum.value","title":"Relative transcript level (Zscore)","labelOverlap":false}},
   "color":{"field":"gene","type":"nominal","scale":{"domain":["Kaladp0037s0421","Aco011603","AT4G07960"],"range":["#0c5b22","#dc8a43","#5b9bd5"]},"legend":{"orient":"none","legendX":110,"legendY":-8.75,"title":null,"symbolType":"stroke","symbolStrokeWidth":3.5,"symbolSize":100,"labelFont":"Liberation Sans","labelFontSize":14,"labelOffset":4,"rowPadding":4.5,"padding":0,"encode":{"labels":{"update":{"fill":{"signal":"indexof(datum.label, 'AT') == 0 ? '#3043cf' : '#e3262e'"}}}}}}}},
  {"data":{"name":"hours"},"mark":{"type":"tick","orient":"vertical","size":5,"thickness":1.2,"color":"#444","yOffset":2.5},"encoding":{"x":{"field":"t","type":"quantitative","axis":null},"y":{"datum":0,"axis":{"values":[-2,-1.5,-1,-0.5,0,0.5,1,1.5,2],"labelExpr":"'' + datum.value","title":"Relative transcript level (Zscore)","labelOverlap":false}}}},
  {"data":{"name":"hours"},"mark":{"type":"text","dy":17,"font":"Open Sans","fontSize":16,"color":"#57574a"},"encoding":{"x":{"field":"t","type":"quantitative","axis":null},"y":{"datum":0,"axis":{"values":[-2,-1.5,-1,-0.5,0,0.5,1,1.5,2],"labelExpr":"'' + datum.value","title":"Relative transcript level (Zscore)","labelOverlap":false}},"text":{"field":"t","type":"quantitative"}}},
  {"data":{"values":[{"t":24,"unit":"(h)"}]},"mark":{"type":"text","dy":17,"dx":10,"align":"left","font":"Open Sans","fontSize":16,"color":"#57574a"},"encoding":{"x":{"field":"t","type":"quantitative","axis":null},"y":{"datum":0,"axis":{"values":[-2,-1.5,-1,-0.5,0,0.5,1,1.5,2],"labelExpr":"'' + datum.value","title":"Relative transcript level (Zscore)","labelOverlap":false}},"text":{"field":"unit"}}}
 ]},
{"width":364,"height":254,
 "layer":[
  {"data":{"name":"edgesC"},"transform":[{"lookup":"src","from":{"data":{"name":"nodesC"},"key":"id","fields":["u","v"]},"as":["u1","v1"]},{"lookup":"dst","from":{"data":{"name":"nodesC"},"key":"id","fields":["u","v"]},"as":["u2","v2"]}],
   "mark":{"type":"rule","color":"#8a8a8a","strokeWidth":2},
   "encoding":{"x":{"field":"u1","type":"quantitative","scale":{"domain":[0,100],"nice":false,"zero":false},"axis":null},"y":{"field":"v1","type":"quantitative","scale":{"domain":[0,100],"nice":false,"zero":false},"axis":null},"x2":{"field":"u2"},"y2":{"field":"v2"}}},
  {"data":{"name":"nodesC"},"mark":{"type":"point","filled":true,"opacity":1,"strokeWidth":5,"strokeJoin":"round"},
   "encoding":{"x":{"field":"u","type":"quantitative","axis":null},"y":{"field":"v","type":"quantitative","axis":null},
   "shape":{"field":"type","type":"nominal","scale":{"domain":["Kalanchoë gene enriched in midnight","Kalanchoë gene enriched in dusk","Pineapple gene enriched in midnight","Pineapple gene enriched in dusk","Arabidopsis gene enriched in midday","Arabidopsis gene enriched in dawn"],"range":["diamond","diamond","M-1,0L-0.5,-0.866L0.5,-0.866L1,0L0.5,0.866L-0.5,0.866Z","M-1,0L-0.5,-0.866L0.5,-0.866L1,0L0.5,0.866L-0.5,0.866Z","M-1.1,-1L0.5,-1L1.1,1L-0.5,1Z","M-1.1,-1L0.5,-1L1.1,1L-0.5,1Z"]},"legend":null},
   "fill":{"field":"type","type":"nominal","scale":{"domain":["Kalanchoë gene enriched in midnight","Kalanchoë gene enriched in dusk","Pineapple gene enriched in midnight","Pineapple gene enriched in dusk","Arabidopsis gene enriched in midday","Arabidopsis gene enriched in dawn"],"range":["#08088a","#8c08e0","#08088a","#8c08e0","#fdfcb2","#1ed6f7"]},"legend":null},
   "stroke":{"field":"type","type":"nominal","scale":{"domain":["Kalanchoë gene enriched in midnight","Kalanchoë gene enriched in dusk","Pineapple gene enriched in midnight","Pineapple gene enriched in dusk","Arabidopsis gene enriched in midday","Arabidopsis gene enriched in dawn"],"range":["#1f9a35","#1f9a35","#f6c200","#f6c200","#c6f3bf","#a9eefb"]},"legend":null},
   "size":{"field":"type","type":"nominal","scale":{"type":"ordinal","domain":["Kalanchoë gene enriched in midnight","Kalanchoë gene enriched in dusk","Pineapple gene enriched in midnight","Pineapple gene enriched in dusk","Arabidopsis gene enriched in midday","Arabidopsis gene enriched in dawn"],"range":[1900,1900,1600,1600,1600,1600]},"legend":null}}},
  {"data":{"name":"linksC"},"mark":{"type":"rule","strokeWidth":3},
   "encoding":{"x":{"field":"u1","type":"quantitative","axis":null},"y":{"field":"v1","type":"quantitative","axis":null},"x2":{"field":"u2"},"y2":{"field":"v2"},
   "color":{"field":"kind","type":"nominal","scale":{"domain":["net","long","short"],"range":["#8a8a8a","#e8141c","#1f78e4"]},"legend":null}}},
  {"data":{"name":"hlabC"},"mark":{"type":"text","font":"Liberation Sans","fontSize":14},
   "encoding":{"x":{"field":"u","type":"quantitative","axis":null},"y":{"field":"v","type":"quantitative","axis":null},"text":{"field":"text"},"color":{"field":"kind","type":"nominal","scale":{"domain":["long","short"],"range":["#e3262e","#2f50d0"]},"legend":null}}},
  {"data":{"name":"labC"},"mark":{"type":"text","font":"Liberation Sans","fontSize":14},
   "encoding":{"x":{"field":"u","type":"quantitative","axis":null},"y":{"field":"v","type":"quantitative","axis":null},"text":{"field":"name"},"color":{"field":"species","type":"nominal","scale":{"domain":["Kalanchoë","pineapple","Arabidopsis"],"range":["#e3262e","#e3262e","#3043cf"]},"legend":null}}}
 ],
 "resolve":{"scale":{"color":"independent"}}},
{"width":381,"height":262,
 "title":{"text":"d","anchor":"start","frame":"bounds","font":"Liberation Sans","fontSize":22,"fontWeight":"normal","color":"#111","dx":-23,"offset":-29,"baseline":"alphabetic"},
 "layer":[
  {"data":{"values":[{"start":0,"end":4,"phase":"dawn"},{"start":10,"end":16,"phase":"dusk"},{"start":22,"end":24,"phase":"dawn"}]},"mark":{"type":"rect"},
   "encoding":{"x":{"field":"start","type":"quantitative","scale":{"domain":[0,24],"nice":false,"zero":false},"axis":null},"x2":{"field":"end"},
   "fill":{"field":"phase","type":"nominal","scale":{"domain":["midday","midnight","dawn","dusk"],"range":["#fffac8","#cbcbf8","#dff1fc","#e3d1fb"]},"legend":null}}},
  {"data":{"values":[{"level":0}]},"mark":{"type":"rule","color":"#444","strokeWidth":1.2},"encoding":{"y":{"datum":0,"axis":{"values":[-2,-1.5,-1,-0.5,0,0.5,1,1.5,2,2.5],"labelExpr":"'' + datum.value","title":"Relative transcript level (Zscore)","labelOverlap":false}}}},
  {"data":{"name":"sd"},"mark":{"type":"line","interpolate":"cardinal","strokeWidth":2.8},
   "encoding":{"x":{"field":"t","type":"quantitative","axis":null},
   "y":{"field":"z","type":"quantitative","scale":{"domain":[-2,2.5],"nice":false,"zero":false},"axis":{"values":[-2,-1.5,-1,-0.5,0,0.5,1,1.5,2,2.5],"labelExpr":"'' + datum.value","title":"Relative transcript level (Zscore)","labelOverlap":false}},
   "color":{"field":"gene","type":"nominal","scale":{"domain":["Kaladp0055s0317","Aco010848","AT5G24300"],"range":["#0c5b22","#dc8a43","#5b9bd5"]},"legend":{"orient":"none","legendX":65,"legendY":-3.75,"title":null,"symbolType":"stroke","symbolStrokeWidth":3.5,"symbolSize":100,"labelFont":"Liberation Sans","labelFontSize":14,"labelOffset":4,"rowPadding":4.5,"padding":0,"encode":{"labels":{"update":{"fill":{"signal":"indexof(datum.label, 'AT') == 0 ? '#3043cf' : '#e3262e'"}}}}}}}},
  {"data":{"name":"hours"},"mark":{"type":"tick","orient":"vertical","size":5,"thickness":1.2,"color":"#444","yOffset":2.5},"encoding":{"x":{"field":"t","type":"quantitative","axis":null},"y":{"datum":0,"axis":{"values":[-2,-1.5,-1,-0.5,0,0.5,1,1.5,2,2.5],"labelExpr":"'' + datum.value","title":"Relative transcript level (Zscore)","labelOverlap":false}}}},
  {"data":{"name":"hours"},"mark":{"type":"text","dy":17,"font":"Open Sans","fontSize":16,"color":"#57574a"},"encoding":{"x":{"field":"t","type":"quantitative","axis":null},"y":{"datum":0,"axis":{"values":[-2,-1.5,-1,-0.5,0,0.5,1,1.5,2,2.5],"labelExpr":"'' + datum.value","title":"Relative transcript level (Zscore)","labelOverlap":false}},"text":{"field":"t","type":"quantitative"}}},
  {"data":{"values":[{"t":24,"unit":"(h)"}]},"mark":{"type":"text","dy":17,"dx":10,"align":"left","font":"Open Sans","fontSize":16,"color":"#57574a"},"encoding":{"x":{"field":"t","type":"quantitative","axis":null},"y":{"datum":0,"axis":{"values":[-2,-1.5,-1,-0.5,0,0.5,1,1.5,2,2.5],"labelExpr":"'' + datum.value","title":"Relative transcript level (Zscore)","labelOverlap":false}},"text":{"field":"unit"}}}
 ]},
{"width":364,"height":262,
 "layer":[
  {"data":{"name":"linksD"},"mark":{"type":"rule","strokeWidth":3.2},
   "encoding":{"x":{"field":"u1","type":"quantitative","scale":{"domain":[0,100],"nice":false,"zero":false},"axis":null},"y":{"field":"v1","type":"quantitative","scale":{"domain":[0,100],"nice":false,"zero":false},"axis":null},"x2":{"field":"u2"},"y2":{"field":"v2"},
   "color":{"field":"kind","type":"nominal","scale":{"domain":["net","long","short"],"range":["#8a8a8a","#e8141c","#1f78e4"]},"legend":null}}},
  {"data":{"name":"nodesD"},"mark":{"type":"point","filled":true,"opacity":1,"strokeWidth":7,"strokeJoin":"round"},
   "encoding":{"x":{"field":"u","type":"quantitative","axis":null},"y":{"field":"v","type":"quantitative","axis":null},
   "shape":{"field":"type","type":"nominal","scale":{"domain":["Kalanchoë gene enriched in midnight","Pineapple gene enriched in midnight","Arabidopsis gene enriched in midday","Kalanchoë gene enriched in dusk","Pineapple gene enriched in dusk","Arabidopsis gene enriched in dawn"],"range":["diamond","M-1,0L-0.5,-0.866L0.5,-0.866L1,0L0.5,0.866L-0.5,0.866Z","M-1.1,-1L0.5,-1L1.1,1L-0.5,1Z","diamond","M-1,0L-0.5,-0.866L0.5,-0.866L1,0L0.5,0.866L-0.5,0.866Z","M-1.1,-1L0.5,-1L1.1,1L-0.5,1Z"]},"legend":{"orient":"none","legendX":-415,"legendY":283,"title":null,"columns":2,"columnPadding":148,"rowPadding":-4.5,"symbolSize":400,"symbolStrokeWidth":3.5,"labelFont":"Liberation Sans","labelFontSize":14,"labelColor":"#222","labelOffset":17,"labelLimit":400,"padding":0}},
   "fill":{"field":"type","type":"nominal","scale":{"domain":["Kalanchoë gene enriched in midnight","Pineapple gene enriched in midnight","Arabidopsis gene enriched in midday","Kalanchoë gene enriched in dusk","Pineapple gene enriched in dusk","Arabidopsis gene enriched in dawn"],"range":["#08088a","#08088a","#fdfcb2","#8c08e0","#8c08e0","#1ed6f7"]},"legend":{"orient":"none","legendX":-415,"legendY":283,"title":null,"columns":2,"columnPadding":148,"rowPadding":-4.5,"symbolSize":400,"symbolStrokeWidth":3.5,"labelFont":"Liberation Sans","labelFontSize":14,"labelColor":"#222","labelOffset":17,"labelLimit":400,"padding":0}},
   "stroke":{"field":"type","type":"nominal","scale":{"domain":["Kalanchoë gene enriched in midnight","Pineapple gene enriched in midnight","Arabidopsis gene enriched in midday","Kalanchoë gene enriched in dusk","Pineapple gene enriched in dusk","Arabidopsis gene enriched in dawn"],"range":["#1f9a35","#f6c200","#c6f3bf","#1f9a35","#f6c200","#a9eefb"]},"legend":{"orient":"none","legendX":-415,"legendY":283,"title":null,"columns":2,"columnPadding":148,"rowPadding":-4.5,"symbolSize":400,"symbolStrokeWidth":3.5,"labelFont":"Liberation Sans","labelFontSize":14,"labelColor":"#222","labelOffset":17,"labelLimit":400,"padding":0}},
   "size":{"field":"type","type":"nominal","scale":{"type":"ordinal","domain":["Arabidopsis gene enriched in dawn","Arabidopsis gene enriched in midday","Pineapple gene enriched in dusk","Pineapple gene enriched in midnight","Kalanchoë gene enriched in dusk","Kalanchoë gene enriched in midnight"],"range":[1600,1600,2116,2116,2809,2809]},"legend":null}}},
  {"data":{"name":"hlabD"},"mark":{"type":"text","font":"Liberation Sans","fontSize":14},
   "encoding":{"x":{"field":"u","type":"quantitative","axis":null},"y":{"field":"v","type":"quantitative","axis":null},"text":{"field":"text"},"color":{"field":"kind","type":"nominal","scale":{"domain":["long","short"],"range":["#e3262e","#2f50d0"]},"legend":null}}},
  {"data":{"name":"labD"},"mark":{"type":"text","font":"Liberation Sans","fontSize":14},
   "encoding":{"x":{"field":"u","type":"quantitative","axis":null},"y":{"field":"v","type":"quantitative","axis":null},"text":{"field":"name"},"color":{"field":"species","type":"nominal","scale":{"domain":["Kalanchoë","pineapple","Arabidopsis"],"range":["#e3262e","#e3262e","#3043cf"]},"legend":null}}}
 ],
 "resolve":{"scale":{"color":"independent"}}}
]
}
